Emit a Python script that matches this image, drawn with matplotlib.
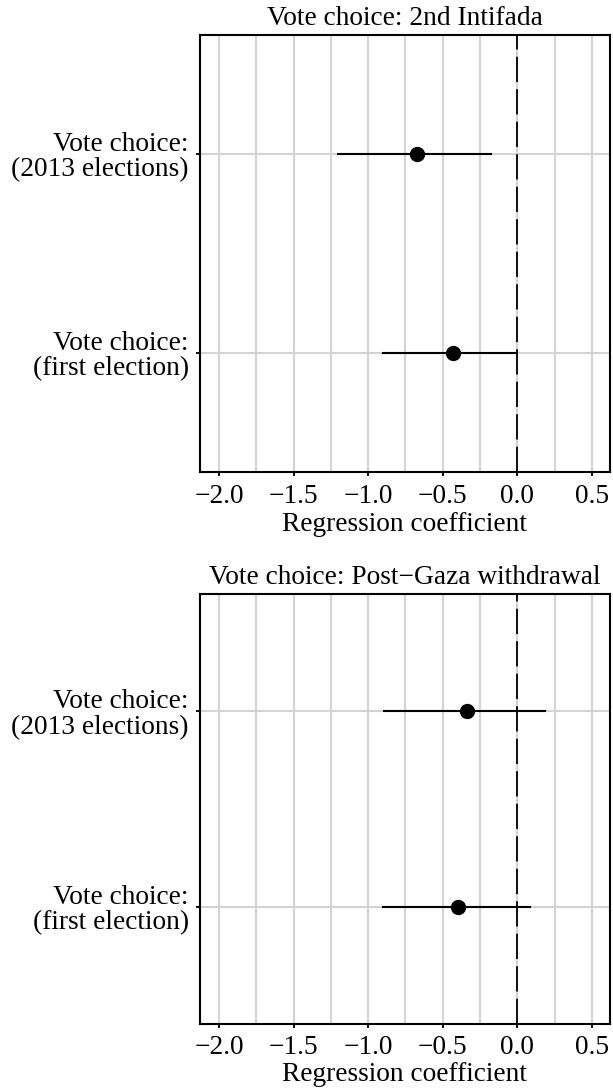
import matplotlib
matplotlib.use("Agg")
import matplotlib.pyplot as plt
import numpy as np

plt.rcParams['font.family'] = ['Liberation Serif', 'DejaVu Serif']

categories = ["Vote choice:\n(first election)", "Vote choice:\n(2013 elections)"]
titles = ["Vote choice: 2nd Intifada", "Vote choice: Post\u2212Gaza withdrawal"]
est = [[-0.43, -0.67], [-0.40, -0.34]]
lo = [[-0.91, -1.21], [-0.91, -0.90]]
hi = [[0.00, -0.17], [0.09, 0.19]]
xticks = [-2.0, -1.5, -1.0, -0.5, 0.0, 0.5]
xlabel = "Regression coefficient"

fig = plt.figure(figsize=(6.13, 10.91), dpi=100)
boxes = [[0.326, 0.5674, 0.669, 0.4006], [0.326, 0.0614, 0.669, 0.3941]]

FS = 19.7
for i in range(2):
    ax = fig.add_axes(boxes[i])
    ypos = np.arange(1, len(categories) + 1)
    for g in np.arange(-2.0, 0.76, 0.25):
        ax.axvline(g, color='#d3d3d3', lw=1.5, zorder=0)
    for y in ypos:
        ax.axhline(y, color='#d3d3d3', lw=1.5, zorder=0)
    ax.axvline(0, color='black', lw=1.3, linestyle=(0, (14, 4)), zorder=1)
    ax.hlines(ypos, lo[i], hi[i], color='black', lw=1.5, zorder=2)
    ax.plot(est[i], ypos, 'o', color='black', ms=10, zorder=3)
    ax.set_xlim(-2.128, 0.62)
    ax.set_ylim(0.4, 2.6)
    ax.set_yticks(ypos)
    ax.set_yticklabels(categories, fontsize=FS, ha='right', linespacing=1.02)
    ax.set_xticks(xticks)
    ax.set_xticklabels([f"{t:.1f}".replace('-', '\u2212') for t in xticks], fontsize=FS)
    ax.tick_params(axis='x', length=3, width=1.3, color='black', pad=5 if i else 6)
    ax.tick_params(axis='y', length=3, width=1.3, color='black', pad=5)
    ax.set_xlabel(xlabel, fontsize=FS, labelpad=1 if i else 2)
    ax.set_title(titles[i], fontsize=FS, pad=7)
    for s in ax.spines.values():
        s.set_linewidth(1.5)
        s.set_color('black')

fig.savefig("out.png", dpi=100)
